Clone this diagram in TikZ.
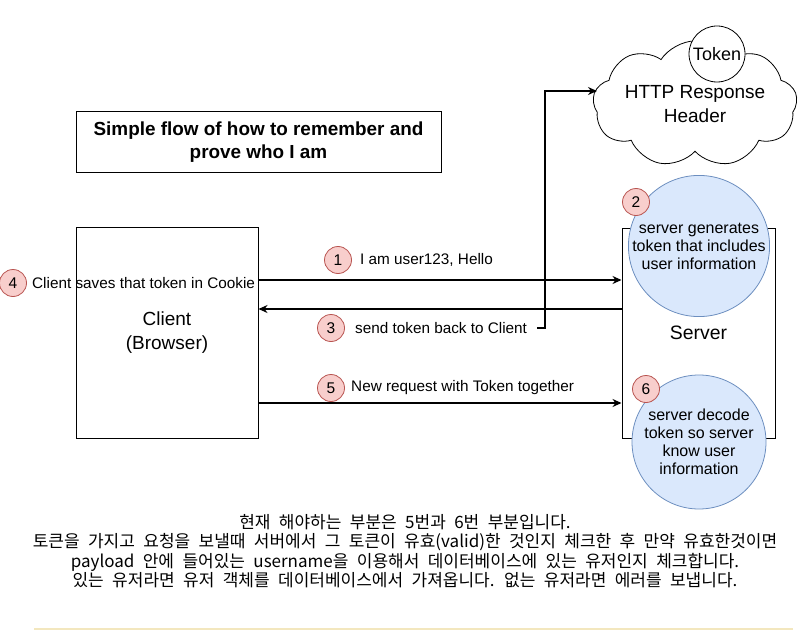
\documentclass[tikz,border=0pt]{standalone}
\usepackage{fontspec}
\setmainfont{Liberation Sans}
\newfontfamily\krfont[WordSpace=2.2]{Noto Sans CJK KR}
\usetikzlibrary{shapes.symbols,arrows.meta}
\definecolor{badgefill}{HTML}{F8CECC}
\definecolor{badgeline}{HTML}{B85450}
\definecolor{bluefill}{HTML}{DAE8FC}
\definecolor{blueline}{HTML}{6C8EBF}
\definecolor{rulecol}{HTML}{F3E7BE}
\tikzset{
  box/.style={draw, line width=1pt, align=center, inner sep=0pt},
  badge/.style={circle, draw=badgeline, fill=badgefill, line width=0.8pt, minimum size=27pt, inner sep=0pt, font=\fontsize{15.5}{17}\selectfont},
  bubble/.style={circle, draw=blueline, fill=bluefill, line width=0.8pt, minimum size=134pt, inner sep=0pt, align=center, font=\fontsize{16}{18}\selectfont},
  lbl/.style={anchor=west, inner sep=0pt, font=\fontsize{15.3}{17}\selectfont},
  arr/.style={line width=1.4pt, -{Stealth[length=9pt,width=8pt]}},
}
\begin{document}
\begin{tikzpicture}[x=1pt,y=-1pt]
\useasboundingbox (0,0) rectangle (810,631);
% title
\node[box, minimum width=365pt, minimum height=60pt, font=\bfseries\fontsize{18.9}{23}\selectfont] (title) at (258.5,142) {Simple flow of how to remember and\\prove who I am};
% client
\node[box, minimum width=182pt, minimum height=211pt, font=\fontsize{19}{24}\selectfont] (client) at (167,332.5) {Client\\(Browser)};
% server
\node[box, minimum width=153pt, minimum height=210pt, font=\fontsize{19.4}{22}\selectfont] (server) at (698.5,333) {Server};
\node[bubble] (gen) at (699,246) {server generates\\token that includes\\user information};
\node[bubble] (dec) at (699,442) {server decode\\token so server\\know user\\information};
\node[badge] (b2) at (636,202) {2};
\node[badge] (b6) at (646,389) {6};
% cloud
\node[cloud, draw, line width=0.8pt, fill=white, cloud puffs=9, cloud puff arc=115, aspect=2.1, minimum width=200pt, minimum height=98pt, inner sep=0pt, align=center, font=\fontsize{19}{24}\selectfont] (cloud) at (695,104) {HTTP Response\\Header};
\node[circle, draw, line width=0.8pt, fill=white, minimum size=56pt, inner sep=0pt, font=\fontsize{18}{20}\selectfont] (token) at (717,54) {Token};
% arrows and labels
\node[badge] (b1) at (338,260) {1};
\node[lbl] (l1) at (360,260) {I am user123, Hello};
\node[badge] (b3) at (331,328) {3};
\node[lbl, inner xsep=10pt] (l3) at (345,328) {send token back to Client};
\node[badge] (b5) at (331,388) {5};
\node[lbl] (l5) at (351,388) {New request with Token together};
\node[badge] (b4) at (13,283) {4};
\node[lbl] (l4) at (32,283) {Client saves that token in Cookie};
\draw[arr] (client.east |- 0,280) -- (server.west |- 0,280);
\draw[arr] (server.west |- 0,309) -- (client.east |- 0,309);
\draw[arr] (client.east |- 0,403) -- (server.west |- 0,403);
\coordinate (bend) at (545,328);
\coordinate (cloudin) at (597,91);
\draw[arr] (l3.east) -- (bend) |- (cloudin);
% korean note
\node[align=center, inner sep=0pt, font=\krfont\fontsize{17}{19.5}\selectfont] (note) at (405,551) {현재 해야하는 부분은 5번과 6번 부분입니다.\\토큰을 가지고 요청을 보낼때 서버에서 그 토큰이 유효(valid)한 것인지 체크한 후 만약 유효한것이면\\payload 안에 들어있는 username을 이용해서 데이터베이스에 있는 유저인지 체크합니다.\\있는 유저라면 유저 객체를 데이터베이스에서 가져옵니다. 없는 유저라면 에러를 보냅니다.};
\coordinate (rs) at (34,629);
\coordinate (re) at (793,629);
\draw[rulecol, line width=1.5pt] (rs) -- (re);
\end{tikzpicture}
\end{document}
